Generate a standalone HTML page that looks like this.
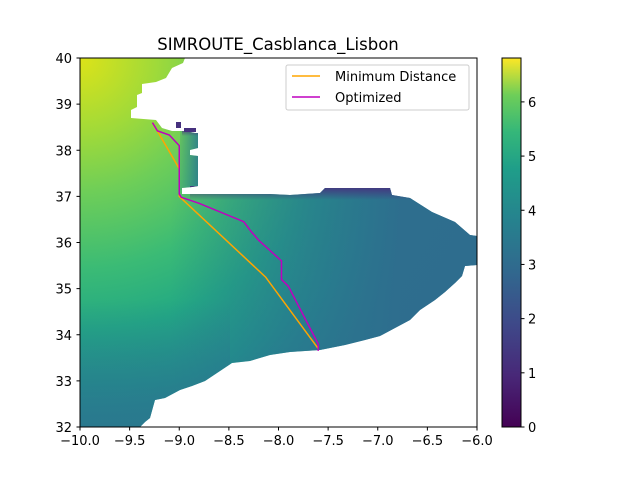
<!DOCTYPE html>
<html><head><meta charset="utf-8"><style>
body{margin:0;background:#fff;font-family:"Liberation Sans","DejaVu Sans",sans-serif;}
text{font-family:"DejaVu Sans","Liberation Sans",sans-serif;font-size:13px;fill:#000}
</style></head><body>
<svg id="chart" width="640" height="480" xmlns="http://www.w3.org/2000/svg">
<defs>
<radialGradient id="field" gradientUnits="userSpaceOnUse" cx="80" cy="58" r="420">
<stop offset="0" stop-color="#dde318"/><stop offset="0.18" stop-color="#a0da39"/>
<stop offset="0.32" stop-color="#6ece58"/><stop offset="0.5" stop-color="#3bbb75"/>
<stop offset="0.65" stop-color="#22a884"/><stop offset="0.8" stop-color="#21918c"/>
<stop offset="0.92" stop-color="#2a788e"/><stop offset="1" stop-color="#2c718e"/>
</radialGradient>
<linearGradient id="east" gradientUnits="userSpaceOnUse" x1="170" y1="0" x2="400" y2="0">
<stop offset="0" stop-color="#2a788e" stop-opacity="0"/><stop offset="0.6" stop-color="#2a768e" stop-opacity="0.7"/><stop offset="1" stop-color="#2e6d8e" stop-opacity="0.95"/>
</linearGradient>
<linearGradient id="strip" x1="0" y1="0" x2="1" y2="0">
<stop offset="0" stop-color="#26828e" stop-opacity="0.2"/><stop offset="1" stop-color="#2a768e" stop-opacity="0.9"/>
</linearGradient>
<linearGradient id="south" gradientUnits="userSpaceOnUse" x1="0" y1="300" x2="0" y2="427">
<stop offset="0" stop-color="#2a788e" stop-opacity="0"/><stop offset="1" stop-color="#2a788e" stop-opacity="0.9"/>
</linearGradient>
<linearGradient id="fringe" x1="0" y1="0" x2="0" y2="1">
<stop offset="0" stop-color="#46307e"/><stop offset="1" stop-color="#46307e" stop-opacity="0"/>
</linearGradient>
<linearGradient id="cbar" x1="0" y1="1" x2="0" y2="0">
<stop offset="0" stop-color="#440154"/><stop offset="0.14" stop-color="#482878"/>
<stop offset="0.28" stop-color="#3e4989"/><stop offset="0.42" stop-color="#31688e"/>
<stop offset="0.56" stop-color="#26828e"/><stop offset="0.7" stop-color="#1f9e89"/>
<stop offset="0.8" stop-color="#35b779"/><stop offset="0.9" stop-color="#6ece58"/>
<stop offset="1" stop-color="#fde725"/>
</linearGradient>
<clipPath id="sea"><path d="M80,58 L185,58 L183,63 L172,68 L166,78 L156,82 L142,84 L142,93 L137,95 L137,107 L131,110 L131,118 L156,120 L162,128 L172,131 L185,131 L195,133 L198,133 L198,148 L190,150 L190,155 L198,156 L198,186 L192,187 L182,188 L182,194 L200,194 L270,194 L290,195 L320,193 L325,188 L390,188 L392,195 L410,198 L432,212 L455,222 L470,235 L477,236 L477,265 L465,266 L462,276 L455,283 L445,292 L435,300 L420,310 L410,320 L395,328 L380,336 L365,340 L345,345 L320,350 L290,352 L270,355 L250,361 L232,363 L217,373 L205,381 L192,386 L180,390 L165,398 L155,400 L150,418 L145,422 L140,427 L80,427 Z"/></clipPath>
</defs>
<g clip-path="url(#sea)">
<rect x="80" y="58" width="397" height="369" fill="url(#field)"/>
<rect x="170" y="180" width="307" height="250" fill="url(#east)"/>
<rect x="180" y="128" width="20" height="62" fill="url(#strip)"/>
<rect x="80" y="300" width="150" height="130" fill="url(#south)"/>
<rect x="182" y="128" width="18" height="8" fill="url(#fringe)"/>
<rect x="190" y="186" width="287" height="14" fill="url(#fringe)"/>
</g>
<rect x="184" y="128" width="12" height="4" fill="#46307e"/>
<rect x="176" y="122" width="5" height="6" fill="#46307e"/>
<g id="routes"></g>
<rect x="80" y="58" width="397" height="369" fill="none" stroke="#000" stroke-width="1"/>
<g id="axes"></g>
<text x="278" y="50" text-anchor="middle" style="font-size:16.5px">SIMROUTE_Casblanca_Lisbon</text>
<g>
<rect x="286" y="65" width="183" height="45" rx="2" fill="#fff" fill-opacity="0.8" stroke="#ccc"/>
<line x1="292" y1="76" x2="320" y2="76" stroke="orange" stroke-width="1.5"/>
<text x="335" y="81">Minimum Distance</text>
<line x1="292" y1="97" x2="320" y2="97" stroke="#bf00bf" stroke-width="1.5"/>
<text x="335" y="102">Optimized</text>
</g>
<rect x="502" y="58" width="19" height="369" fill="url(#cbar)" stroke="#000" stroke-width="1"/>
<g id="cbticks"></g>
</svg>
<script>
const xTicks=[-10,-9.5,-9,-8.5,-8,-7.5,-7,-6.5,-6];
const yTicks=[32,33,34,35,36,37,38,39,40];
const cbTicks=[0,1,2,3,4,5,6];
const minLon=[-9.27,-9.0,-9.0,-8.13,-7.6];
const minLat=[38.6,37.6,37.0,35.25,33.7];
const optLon=[-9.27,-9.22,-9.1,-9.0,-9.0,-8.98,-8.8,-8.35,-8.28,-8.2,-7.97,-7.97,-7.9,-7.6,-7.6];
const optLat=[38.6,38.42,38.33,38.1,37.05,36.98,36.85,36.45,36.25,36.05,35.6,35.2,35.05,33.8,33.65];
const cbMax=6.81;
const X=v=>80+(v+10)*99.25, Y=v=>427-(v-32)*46.125, CY=v=>427-v/cbMax*369;
const NS="http://www.w3.org/2000/svg";
function mk(t,a,p){const e=document.createElementNS(NS,t);for(const k in a)e.setAttribute(k,a[k]);p.appendChild(e);return e;}
const ax=document.getElementById('axes');
xTicks.forEach(v=>{const x=X(v);mk('line',{x1:x,y1:427,x2:x,y2:430.5,stroke:'#000'},ax);
const t=mk('text',{x:x,y:445,'text-anchor':'middle'},ax);t.textContent=v.toFixed(1).replace('-','−');

});
yTicks.forEach(v=>{const y=Y(v);mk('line',{x1:76.5,y1:y,x2:80,y2:y,stroke:'#000'},ax);
const t=mk('text',{x:72,y:y+5,'text-anchor':'end'},ax);t.textContent=v;

});
const cb=document.getElementById('cbticks');
cbTicks.forEach(v=>{const y=CY(v);mk('line',{x1:521,y1:y,x2:524.5,y2:y,stroke:'#000'},cb);
const t=mk('text',{x:528,y:y+5},cb);t.textContent=v;

});
const r=document.getElementById('routes');
const p1=mk('polyline',{points:minLon.map((v,i)=>X(v)+','+Y(minLat[i])).join(' '),fill:'none',stroke:'orange','stroke-width':1.5},r);


const p2=mk('polyline',{points:optLon.map((v,i)=>X(v)+','+Y(optLat[i])).join(' '),fill:'none',stroke:'#bf00bf','stroke-width':1.5},r);


</script>
</body></html>
